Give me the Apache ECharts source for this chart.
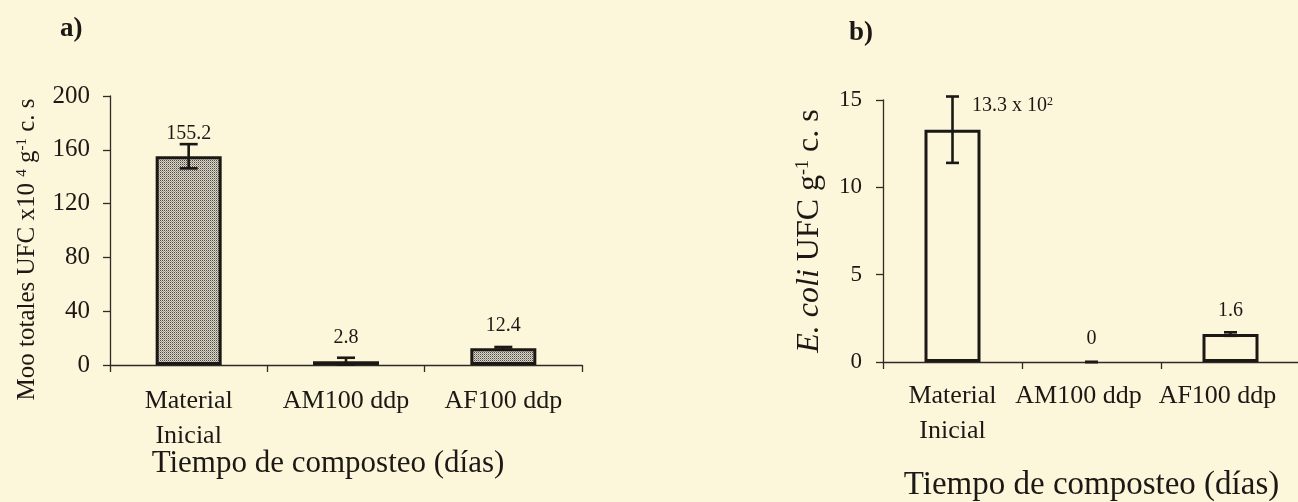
<!DOCTYPE html>
<html><head><meta charset="utf-8">
<script src="https://cdn.jsdelivr.net/npm/echarts@6/dist/echarts.min.js"></script>
<style>html,body{margin:0;padding:0;background:#fcf6da;} #c{width:1298px;height:502px;}</style>
</head><body><div id="c"></div>
<script>
// ---- data ----
const categories = ['Material\nInicial', 'AM100 ddp', 'AF100 ddp'];
const valuesA = [155.2, 2.8, 12.4];
const errorsA = [9, 2.6, 1];
const labelsA = ['155.2', '2.8', '12.4'];
const valuesB = [13.3, 0, 1.6];
const errorsB = [1.9, 0, 0.1];
const labelsB = ['13.3 x 10{sup|2}', '0', '1.6'];
const axisA = { min: 0, max: 200, interval: 40 };
const axisB = { min: 0, max: 15, interval: 5 };

const FONT = '"Liberation Serif", "DejaVu Serif", serif';
const INK = '#1c1815';
const BG = '#fcf6da';

function stipple() {
  const c = document.createElement('canvas');
  c.width = 2; c.height = 2;
  const g = c.getContext('2d');
  g.fillStyle = '#dcd6c8'; g.fillRect(0, 0, 2, 2);
  g.fillStyle = '#4f4a44'; g.fillRect(0, 0, 1, 1);
  g.fillStyle = '#9a958b'; g.fillRect(1, 1, 1, 1);
  return c;
}

function errorSeries(values, errors, labels, idx, capW) {
  return {
    type: 'custom', xAxisIndex: idx, yAxisIndex: idx, z: 10, silent: true,
    data: values.map((v, i) => [i, v, errors[i]]),
    renderItem(params, api) {
      const i = api.value(0), v = api.value(1), e = api.value(2);
      const top = api.coord([i, v + e]);
      const bot = api.coord([i, Math.max(0, v - e)]);
      const base = api.coord([i, v]);
      const x = base[0], half = capW / 2;
      const ls = { stroke: INK, lineWidth: 2.6 };
      const ch = [];
      if (e > 0) ch.push({ type: 'line', shape: { x1: x, y1: top[1], x2: x, y2: bot[1] }, style: ls });
      ch.push({ type: 'line', shape: { x1: x - half, y1: top[1], x2: x + half, y2: top[1] }, style: ls });
      ch.push({ type: 'line', shape: { x1: x - half, y1: bot[1], x2: x + half, y2: bot[1] }, style: ls });
      let ly = base[1] - 23, lx = x, align = 'center';
      if (top[1] < ly + 5) { lx = x + half + 13; ly = top[1] + 9; align = 'left'; }
      ch.push({
        type: 'text',
        style: {
          text: labels[i], x: lx, y: ly, align: align, verticalAlign: 'middle',
          fontFamily: FONT, fontSize: 20, fill: INK,
          rich: { sup: { fontFamily: FONT, fontSize: 12, verticalAlign: 'top', lineHeight: 12, fill: INK } }
        }
      });
      return { type: 'group', children: ch };
    }
  };
}

const axisLineStyle = { lineStyle: { color: '#2e2a26', width: 1.3 } };

const option = {
  backgroundColor: BG,
  animation: false,
  textStyle: { fontFamily: FONT, color: INK },
  title: [
    { text: 'a)', left: 55, top: 11, textStyle: { fontFamily: FONT, fontWeight: 'bold', fontSize: 27, color: INK } },
    { text: 'b)', left: 844, top: 15, textStyle: { fontFamily: FONT, fontWeight: 'bold', fontSize: 27, color: INK } }
  ],
  grid: [
    { left: 110, top: 96, width: 472, height: 269, containLabel: false, outerBoundsMode: 'none' },
    { left: 883, top: 100, width: 417, height: 262, containLabel: false, outerBoundsMode: 'none' }
  ],
  xAxis: [
    {
      type: 'category', gridIndex: 0, data: categories,
      axisLine: axisLineStyle,
      axisTick: { show: true, length: 7, lineStyle: { color: '#2e2a26', width: 1.3 } },
      axisLabel: { interval: 0, margin: 19, fontSize: 26, lineHeight: 35, color: INK, fontFamily: FONT },
      name: 'Tiempo de composteo (días)', nameLocation: 'middle', nameGap: 83, nameMoveOverlap: false,
      nameTextStyle: { fontSize: 31, color: INK, fontFamily: FONT, padding: [0, 36, 0, 0] }
    },
    {
      type: 'category', gridIndex: 1, data: categories,
      axisLine: axisLineStyle,
      axisTick: { show: true, length: 7, lineStyle: { color: '#2e2a26', width: 1.3 } },
      axisLabel: {
        interval: 0, margin: 17, fontSize: 26, lineHeight: 35, color: INK, fontFamily: FONT,
        formatter: (v, i) => i === 0 ? v : '{s|' + v + '}',
        rich: { s: { fontSize: 26, lineHeight: 35, color: INK, fontFamily: FONT, padding: [0, 26, 0, 0] } }
      },
      name: 'Tiempo de composteo (días)', nameLocation: 'middle', nameGap: 107, nameMoveOverlap: false,
      nameTextStyle: { fontSize: 33, color: INK, fontFamily: FONT }
    }
  ],
  yAxis: [
    {
      type: 'value', gridIndex: 0, min: axisA.min, max: axisA.max, interval: axisA.interval,
      splitLine: { show: false },
      axisLine: { show: true, lineStyle: { color: '#2e2a26', width: 1.3 } },
      axisTick: { show: true, length: 7, lineStyle: { color: '#2e2a26', width: 1.3 } },
      axisLabel: { margin: 20, fontSize: 25, color: INK, fontFamily: FONT },
      name: 'Moo totales UFC x10 {sup|4} g{sup|-1} c. s', nameLocation: 'middle', nameGap: 70, nameMoveOverlap: false,
      nameTextStyle: {
        fontSize: 25, color: INK, fontFamily: FONT, lineHeight: 25, padding: [0, 38, 0, 0],
        rich: { sup: { fontSize: 15, fontFamily: FONT, color: INK, verticalAlign: 'top', lineHeight: 13 } }
      }
    },
    {
      type: 'value', gridIndex: 1, min: axisB.min, max: axisB.max, interval: axisB.interval,
      splitLine: { show: false },
      axisLine: { show: true, lineStyle: { color: '#2e2a26', width: 1.3 } },
      axisTick: { show: true, length: 7, lineStyle: { color: '#2e2a26', width: 1.3 } },
      axisLabel: { margin: 21, fontSize: 23, color: INK, fontFamily: FONT },
      name: '{i|E. coli} UFC g{sup|-1} c. s', nameLocation: 'middle', nameGap: 57, nameMoveOverlap: false,
      nameTextStyle: {
        fontSize: 32, color: INK, fontFamily: FONT, lineHeight: 32,
        rich: {
          i: { fontSize: 32, fontStyle: 'italic', fontFamily: FONT, color: INK },
          sup: { fontSize: 18, fontFamily: FONT, color: INK, verticalAlign: 'top', lineHeight: 16 }
        }
      }
    }
  ],
  series: [
    {
      type: 'bar', xAxisIndex: 0, yAxisIndex: 0, barWidth: 66, silent: true,
      data: valuesA,
      itemStyle: { color: { image: stipple(), repeat: 'repeat' }, borderColor: INK, borderWidth: 3 }
    },
    errorSeries(valuesA, errorsA, labelsA, 0, 18),
    {
      type: 'bar', xAxisIndex: 1, yAxisIndex: 1, barWidth: 56, silent: true,
      data: valuesB.map(v => v === 0 ? { value: v, itemStyle: { borderWidth: 0 } } : v),
      itemStyle: { color: BG, borderColor: INK, borderWidth: 3 }
    },
    errorSeries(valuesB, errorsB, labelsB, 1, 13)
  ]
};

const chart = echarts.init(document.getElementById('c'), null, { renderer: 'canvas' });
chart.setOption(option);
</script>
</body></html>
